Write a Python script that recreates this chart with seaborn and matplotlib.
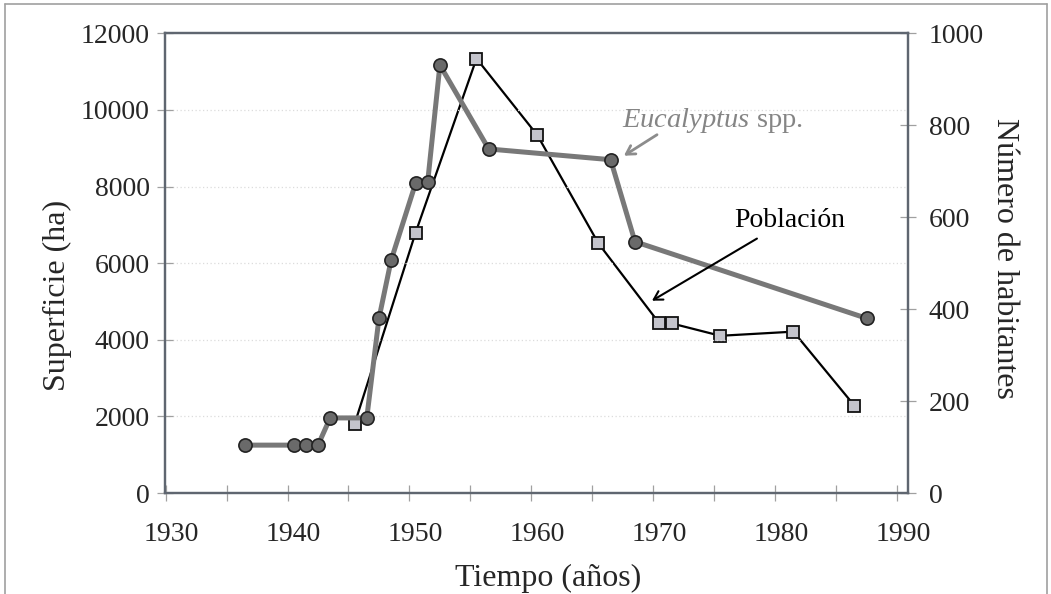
import numpy as np
import pandas as pd
import seaborn as sns
import matplotlib.pyplot as plt
from matplotlib.lines import Line2D

# --- data ---
euc_years = [1936, 1940, 1941, 1942, 1943, 1946, 1947, 1948, 1950, 1951, 1952, 1956, 1966, 1968, 1987]
euc_area = [1250, 1250, 1250, 1250, 1960, 1960, 4560, 6080, 8080, 8130, 11170, 8980, 8700, 6560, 4560]

pop_years = [1945, 1950, 1955, 1960, 1965, 1970, 1971, 1975, 1981, 1986]
pop_count = [150, 566, 945, 778, 543, 369, 369, 342, 351, 190]

year_labels = [1930, 1940, 1950, 1960, 1970, 1980, 1990]
year_marks = [1929.5 + 5 * k for k in range(13)]
area_ticks = [0, 2000, 4000, 6000, 8000, 10000, 12000]
pop_ticks = [0, 200, 400, 600, 800, 1000]

sns.set_style("white")
plt.rcParams["font.family"] = ["Liberation Serif", "DejaVu Serif"]
plt.rcParams["mathtext.fontset"] = "custom"
plt.rcParams["mathtext.rm"] = "Liberation Serif"
plt.rcParams["mathtext.it"] = "Liberation Serif:italic"

FRAME = "#5f6670"
TICK = "#a0a0a0"

fig = plt.figure(figsize=(10.51, 5.94), dpi=100)
ax = fig.add_axes([0.157, 0.170, 0.707, 0.774])
ax2 = ax.twinx()

# population on the twin axis, kept underneath the eucalyptus line
sns.lineplot(x=pop_years, y=pop_count, ax=ax2, color="black", linewidth=1.6,
             marker="s", markersize=9, markerfacecolor="#c4c4cc",
             markeredgecolor="#111111", markeredgewidth=1.3)
sns.lineplot(x=euc_years, y=euc_area, ax=ax, color="#787878", linewidth=3.6,
             marker="o", markersize=9.5, markerfacecolor="#6a6a6a",
             markeredgecolor="#222222", markeredgewidth=1.2, zorder=5)
ax.set_zorder(ax2.get_zorder() + 1)
ax.patch.set_visible(False)

ax.set_xlim(1929.45, 1990.4)
ax.set_ylim(0, 12000)
ax2.set_ylim(0, 1000)

ax.set_xticks(year_labels)
ax.set_xticks(year_marks, minor=True)
ax.set_yticks(area_ticks)
ax2.set_yticks(pop_ticks)

ax.tick_params(axis="x", which="major", length=0, pad=21, labelsize=20)
ax.tick_params(axis="x", which="minor", direction="inout", length=12, width=0.9,
               color=TICK, bottom=True)
ax.tick_params(axis="y", direction="inout", length=12, width=0.9, color=TICK,
               pad=5, labelsize=20, left=True)
ax2.tick_params(axis="y", direction="inout", length=12, width=0.9, color=TICK,
                pad=9, labelsize=20, right=True)

for a in (ax, ax2):
    for s in a.spines.values():
        s.set_color(FRAME)
        s.set_linewidth(1.6)

# faint dotted gridlines at the left-axis ticks
for v in area_ticks[1:-1]:
    ax.axhline(v, color="#dcdcdc", linestyle=(0, (1, 2)), linewidth=0.9, zorder=0)

ax.set_xlabel("Tiempo (años)", fontsize=23)
ax.set_ylabel("Superficie (ha)", fontsize=23)
ax2.set_ylabel("Número de habitantes", fontsize=23, rotation=270, va="bottom")
ax.xaxis.set_label_coords(0.515, -0.155)
ax.yaxis.set_label_coords(-0.125, 0.43)
ax2.yaxis.set_label_coords(1.11, 0.51)

# annotations
ax.annotate("", xy=(1966.9, 8765), xytext=(1970.0, 9391),
            arrowprops=dict(arrowstyle="->,head_length=0.6,head_width=0.35",
                            color="#8c8c8c", lw=2), zorder=6)
ax.text(1966.9, 9730, r"$\mathit{Eucalyptus}$ spp.", fontsize=20.5,
        color="#858585", va="center", ha="left")
ax.annotate("", xy=(1969.2, 4983), xytext=(1978.2, 6678),
            arrowprops=dict(arrowstyle="->,head_length=0.6,head_width=0.35",
                            color="black", lw=1.5), zorder=6)
ax.text(1976.1, 7122, "Población", fontsize=20, color="black",
        va="center", ha="left")

# thin border round the picture (no bottom edge, as in the reference)
for xs, ys in [([0.005, 0.005], [0, 0.993]), ([0.005, 0.996], [0.993, 0.993]),
               ([0.996, 0.996], [0, 0.993])]:
    fig.add_artist(Line2D(xs, ys, transform=fig.transFigure, color="#a0a0a0", lw=1.2))

fig.savefig("out.png", dpi=100)
